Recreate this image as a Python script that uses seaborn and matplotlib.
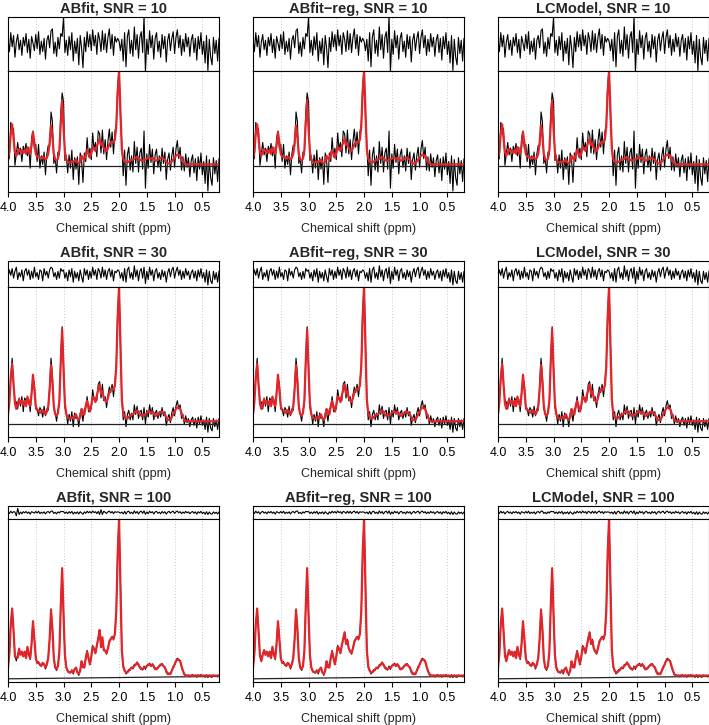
import matplotlib

matplotlib.use("Agg")

import matplotlib.pyplot as plt
import numpy as np
import pandas as pd
import seaborn as sns

sns.set_style("ticks")
plt.rcParams["font.family"] = ["Liberation Sans", "DejaVu Sans"]

methods = ["ABfit", "ABfit\u2212reg", "LCModel"]
snr_levels = [10, 30, 100]

# chemical shift axis, 4.0 -> 0.2 ppm in 0.025 ppm steps (153 points)
ppm = np.linspace(4.0, 0.2, 153)

fit = [
    0.07, 0.16, 0.34, 0.44, 0.30, 0.15, 0.11, 0.15, 0.18, 0.15,
    0.17, 0.14, 0.17, 0.13, 0.20, 0.15, 0.13, 0.22, 0.36, 0.25,
    0.13, 0.10, 0.10, 0.09, 0.08, 0.10, 0.09, 0.07, 0.09, 0.13,
    0.25, 0.43, 0.31, 0.13, 0.07, 0.06, 0.08, 0.17, 0.45, 0.69,
    0.40, 0.15, 0.07, 0.05, 0.04, 0.04, 0.05, 0.04, 0.06, 0.07,
    0.04, 0.03, 0.05, 0.11, 0.08, 0.07, 0.13, 0.17, 0.13, 0.09,
    0.14, 0.20, 0.19, 0.16, 0.21, 0.25, 0.29, 0.22, 0.24, 0.19,
    0.17, 0.16, 0.19, 0.23, 0.25, 0.26, 0.25, 0.28, 0.42, 0.78,
    1.00, 0.60, 0.18, 0.08, 0.05, 0.04, 0.04, 0.05, 0.06, 0.07,
    0.07, 0.08, 0.09, 0.10, 0.09, 0.07, 0.06, 0.06, 0.07, 0.07,
    0.08, 0.09, 0.09, 0.08, 0.09, 0.08, 0.06, 0.06, 0.07, 0.08,
    0.09, 0.09, 0.08, 0.07, 0.05, 0.03, 0.03, 0.03, 0.05, 0.07,
    0.09, 0.11, 0.12, 0.12, 0.11, 0.08, 0.05, 0.03, 0.02, 0.02,
    0.02, 0.02, 0.02, 0.02, 0.02, 0.02, 0.02, 0.02, 0.02, 0.02,
    0.02, 0.02, 0.02, 0.02, 0.02, 0.02, 0.02, 0.02, 0.02, 0.02,
    0.02, 0.02, 0.02,
]

# noise (data - fit) for each SNR level, same data for all three methods
noise_snr10 = [
    0.05, -0.08, 0.12, -0.03, 0.09, -0.14, 0.02, 0.10, -0.06, 0.04,
    -0.12, 0.07, -0.02, 0.11, -0.09, 0.05, -0.15, 0.08, 0.01, -0.07,
    0.10, -0.05, 0.13, -0.11, 0.03, -0.08, 0.06, -0.16, 0.04, 0.09,
    -0.04, 0.14, 0.16, -0.10, 0.02, -0.13, 0.07, -0.05, 0.11, 0.08,
    0.28, -0.09, 0.04, -0.12, 0.08, -0.06, 0.12, -0.18, 0.03, -0.10,
    0.06, -0.22, 0.09, -0.04, -0.25, 0.07, -0.08, 0.13, -0.03, 0.10,
    -0.07, 0.15, -0.02, 0.09, -0.11, 0.12, 0.05, -0.08, 0.14, -0.06,
    0.11, -0.09, 0.07, 0.16, -0.05, 0.10, -0.12, 0.08, 0.02, 0.06,
    0.03, -0.07, 0.05, -0.18, 0.12, -0.24, 0.08, 0.15, -0.10, 0.04,
    -0.13, 0.18, -0.06, 0.10, -0.15, 0.07, 0.13, -0.09, 0.30, -0.30,
    0.05, -0.11, 0.14, -0.04, 0.09, -0.16, 0.06, 0.12, -0.08, 0.03,
    -0.14, 0.10, -0.05, 0.08, -0.19, 0.04, 0.11, -0.07, 0.06, 0.13,
    -0.10, 0.07, 0.15, -0.04, 0.09, -0.12, 0.05, -0.08, 0.11, -0.03,
    0.07, -0.13, 0.04, 0.10, -0.09, 0.06, -0.17, 0.08, -0.05, 0.12,
    -0.11, 0.03, -0.20, 0.09, -0.28, 0.05, -0.14, -0.22, 0.07, -0.10,
    0.04, -0.18, 0.06,
]
noise_snr30 = [
    -0.02, 0.03, -0.01, 0.04, -0.03, 0.02, 0.05, -0.04, 0.01, -0.02,
    0.03, -0.05, 0.02, 0.04, -0.01, 0.03, -0.04, 0.02, -0.03, 0.05,
    -0.02, 0.01, -0.04, 0.03, 0.02, -0.05, 0.04, -0.01, 0.02, -0.03,
    0.03, 0.05, 0.04, -0.02, 0.01, -0.04, 0.02, -0.03, 0.04, 0.02,
    0.03, -0.03, 0.01, -0.05, 0.03, -0.02, 0.04, -0.06, 0.02, -0.03,
    0.01, -0.05, 0.03, -0.02, -0.06, 0.04, -0.01, 0.03, -0.04, 0.02,
    -0.03, 0.05, -0.01, 0.03, -0.04, 0.04, 0.02, -0.03, 0.05, -0.02,
    0.03, -0.04, 0.02, 0.04, -0.02, 0.03, -0.05, 0.02, 0.01, 0.03,
    0.02, -0.03, 0.01, -0.05, 0.04, -0.06, 0.03, 0.05, -0.03, 0.01,
    -0.04, 0.06, -0.02, 0.03, -0.05, 0.02, 0.04, -0.03, 0.05, -0.07,
    0.02, -0.04, 0.05, -0.01, 0.03, -0.05, 0.02, 0.04, -0.03, 0.01,
    -0.04, 0.03, -0.02, 0.02, -0.06, 0.01, 0.04, -0.02, 0.03, 0.05,
    -0.03, 0.02, 0.05, -0.01, 0.03, -0.04, 0.02, -0.03, 0.04, -0.01,
    0.02, -0.04, 0.01, 0.03, -0.03, 0.02, -0.05, 0.03, -0.02, 0.04,
    -0.03, 0.01, -0.06, 0.03, -0.08, 0.02, -0.05, -0.07, 0.02, -0.04,
    0.01, -0.06, 0.02,
]
noise_snr100 = [
    0.004, -0.006, 0.008, -0.003, 0.005, -0.009, 0.002, 0.007, -0.004, 0.003,
    -0.008, 0.005, -0.002, 0.006, -0.005, 0.003, -0.010, 0.005, 0.001, -0.004,
    0.006, -0.003, 0.008, -0.007, 0.002, -0.005, 0.004, -0.009, 0.003, 0.006,
    -0.003, 0.008, 0.009, -0.006, 0.001, -0.008, 0.004, -0.003, 0.007, 0.005,
    0.006, -0.006, 0.003, -0.007, 0.005, -0.004, 0.007, -0.010, 0.002, -0.006,
    0.004, -0.009, 0.005, -0.003, -0.011, 0.004, -0.005, 0.008, -0.002, 0.006,
    -0.004, 0.009, -0.001, 0.005, -0.007, 0.007, 0.003, -0.005, 0.008, -0.004,
    0.007, -0.006, 0.004, 0.009, -0.003, 0.006, -0.007, 0.005, 0.001, 0.004,
    0.002, -0.004, 0.003, -0.009, 0.007, -0.010, 0.005, 0.008, -0.006, 0.002,
    -0.008, 0.010, -0.004, 0.006, -0.009, 0.004, 0.008, -0.005, 0.010, -0.011,
    0.003, -0.007, 0.008, -0.002, 0.005, -0.009, 0.004, 0.007, -0.005, 0.002,
    -0.008, 0.006, -0.003, 0.005, -0.010, 0.002, 0.007, -0.004, 0.004, 0.008,
    -0.006, 0.004, 0.009, -0.002, 0.005, -0.007, 0.003, -0.005, 0.007, -0.002,
    0.004, -0.008, 0.002, 0.006, -0.005, 0.004, -0.010, 0.005, -0.003, 0.007,
    -0.007, 0.002, -0.011, 0.005, -0.012, 0.003, -0.008, -0.010, 0.004, -0.006,
    0.002, -0.009, 0.003,
]
noise_by_snr = [noise_snr10, noise_snr30, noise_snr100]

# ABfit misfit at SNR = 100 (extra residual wiggles near 3.85 and 2.3 ppm)
misfit_ppm = [3.875, 3.85, 3.825, 3.8, 2.35, 2.325, 2.3, 2.275, 2.25]
misfit_val = [0.012, -0.022, 0.018, -0.008, -0.015, 0.022, -0.020, 0.012, -0.006]

# estimated baseline (value at 4.0 ppm and at 0.2 ppm)
baseline_left = [0.0, 0.0, 0.0]
baseline_right = [0.0, 0.0, 0.015]

# y-ranges of the residual and spectrum panels per row
resid_half_range = [0.285, 0.095, 0.04]
spec_bottom = [-0.27, -0.095, -0.02]

W, H = 709, 725
col_left = [8, 253, 498]
panel_w = 211
row_resid_top = [17, 261, 506]
row_resid_bot = [71, 287, 519]
row_main_bot = [192, 437, 682]

RED = "#E0262B"
GRID = "#C8C8C8"

fig = plt.figure(figsize=(W / 100, H / 100), dpi=100)


def rect(left, top, bottom):
    return [left / W, 1 - bottom / H, panel_w / W, (bottom - top) / H]


def style(ax):
    for sp in ax.spines.values():
        sp.set_color("black")
        sp.set_linewidth(0.8)
    ax.set_xlim(4.0, 0.2)
    ax.set_yticks([])
    ax.set_ylabel("")
    ax.set_xlabel("")
    for g in [3.5, 3.0, 2.5, 2.0, 1.5, 1.0, 0.5]:
        ax.axvline(g, color=GRID, lw=0.7, ls=(0, (1, 2)), zorder=0)


for r, snr in enumerate(snr_levels):
    base = pd.DataFrame({"ppm": [4.0, 0.2], "y": [baseline_left[r], baseline_right[r]]})

    for c, method in enumerate(methods):
        df = pd.DataFrame({"ppm": ppm, "fit": fit, "resid": noise_by_snr[r]})
        df["data"] = df["fit"] + df["resid"]
        if r == 2 and c == 0:
            for p, v in zip(misfit_ppm, misfit_val):
                k = int(np.argmin(np.abs(ppm - p)))
                df.loc[k, "resid"] += v
                df.loc[k, "fit"] -= v

        ax_r = fig.add_axes(rect(col_left[c], row_resid_top[r], row_resid_bot[r]))
        ax_m = fig.add_axes(rect(col_left[c], row_resid_bot[r], row_main_bot[r]))

        sns.lineplot(data=df, x="ppm", y="resid", ax=ax_r, color="black",
                     lw=0.8, estimator=None)
        style(ax_r)
        ax_r.set_ylim(-resid_half_range[r], resid_half_range[r])
        ax_r.set_xticks([])
        ax_r.set_title(f"{method}, SNR = {snr}", fontsize=10.5,
                       fontweight="bold", pad=3)

        sns.lineplot(data=df, x="ppm", y="data", ax=ax_m, color="black",
                     lw=0.8, estimator=None)
        sns.lineplot(data=base, x="ppm", y="y", ax=ax_m, color="#222222",
                     lw=0.9, estimator=None)
        sns.lineplot(data=df, x="ppm", y="fit", ax=ax_m, color=RED,
                     lw=1.6, estimator=None)
        style(ax_m)
        ax_m.set_ylim(spec_bottom[r], 1.0)
        ax_m.set_xticks([4.0, 3.5, 3.0, 2.5, 2.0, 1.5, 1.0, 0.5])
        ax_m.set_xticklabels(["4.0", "3.5", "3.0", "2.5", "2.0", "1.5", "1.0", "0.5"])
        ax_m.tick_params(axis="x", direction="out", length=3.5, width=0.8,
                         pad=3.5, labelsize=9, colors="black")
        ax_m.set_xlabel("Chemical shift (ppm)", fontsize=9, labelpad=7)

fig.savefig("out.png", dpi=100)
